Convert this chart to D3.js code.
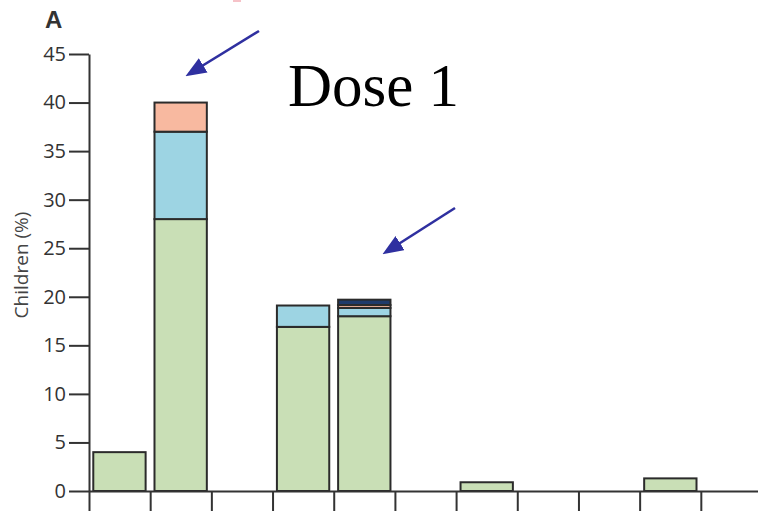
<!DOCTYPE html>
<html><head><meta charset="utf-8">
<script src="https://cdn.jsdelivr.net/npm/d3@7"></script>
<style>html,body{margin:0;padding:0;background:#fff;}svg{display:block;}</style>
</head><body>
<svg id="chart" width="758" height="511"></svg>
<script>
// ---- data ----
const categories = ["1","2","3","4","5","6","7","8","9","10","11"];
const seriesNames = ["green","blue","salmon","navy"];
const greenVals  = [4.0, 28.0, 0, 16.9, 18.0, 0, 0.9, 0, 0, 1.3, 0];
const blueVals   = [0,    9.0, 0,  2.2, 0.85, 0, 0,   0, 0, 0,   0];
const salmonVals = [0,    3.0, 0,  0,   0.3,  0, 0,   0, 0, 0,   0];
const navyVals   = [0,    0,   0,  0,   0.55, 0, 0,   0, 0, 0,   0];
const yTicks = [0,5,10,15,20,25,30,35,40,45];
const yLabel = "Children (%)";
const panelLabel = "A";
const annotation = "Dose 1";

const colors = {green:"#c9dfb6", blue:"#9dd4e3", salmon:"#f8b9a0", navy:"#1e3a6a"};
const svg = d3.select("#chart");
const x0 = 89, x1 = 762, yTop = 54, yBot = 491;

const x = d3.scaleBand().domain(categories).range([x0, x1]).paddingInner(0.145).paddingOuter(0.07);
const xb = d3.scaleLinear().domain([0, categories.length]).range([x0, x1]);
const y = d3.scaleLinear().domain([0,45]).range([yBot, yTop]);

const rows = categories.map((c,i)=>({cat:c, green:greenVals[i], blue:blueVals[i], salmon:salmonVals[i], navy:navyVals[i]}));
const stack = d3.stack().keys(seriesNames)(rows);

const g = svg.append("g");
stack.forEach(layer=>{
  g.selectAll(null).data(layer.filter(d=>d[1]-d[0]>0)).enter().append("rect")
    .attr("x", d=>x(d.data.cat))
    .attr("width", x.bandwidth())
    .attr("y", d=>y(d[1]))
    .attr("height", d=>y(d[0])-y(d[1]))
    .attr("fill", colors[layer.key])
    .attr("stroke", "#2b2b2b")
    .attr("stroke-width", 2);
});

// y axis
const yAxis = svg.append("g").attr("transform",`translate(${x0},0)`)
  .call(d3.axisLeft(y).tickValues(yTicks).tickSize(20).tickSizeOuter(0).tickPadding(3));
yAxis.selectAll("path,line").attr("stroke","#333").attr("stroke-width",2);
yAxis.selectAll("text").attr("font-family","'Open Sans', sans-serif").attr("font-size",20).attr("fill","#333");

// x axis
const xAxis = svg.append("g").attr("transform",`translate(0,${yBot})`)
  .call(d3.axisBottom(xb).tickValues(d3.range(0, categories.length)).tickSize(20).tickSizeOuter(0).tickFormat(""));
xAxis.selectAll("path,line").attr("stroke","#333").attr("stroke-width",2);

// y label
svg.append("text").attr("transform","translate(28,265) rotate(-90)")
  .attr("text-anchor","middle").attr("font-family","'Open Sans', sans-serif")
  .attr("font-size",19).attr("fill","#444").text(yLabel);

// panel label
svg.append("text").attr("x",45).attr("y",28).attr("font-family","'Liberation Sans', Arial, sans-serif")
  .attr("font-weight","bold").attr("font-size",24).attr("fill","#333").text(panelLabel);

// annotation
svg.append("text").attr("x",288).attr("y",106).attr("font-family","'Liberation Serif', 'Times New Roman', serif")
  .attr("font-size",61).attr("fill","#000").text(annotation);

// cropped pink fragment at top
svg.append("rect").attr("x",233).attr("y",0).attr("width",8).attr("height",2).attr("fill","#f6c2c8");

// arrows
const defs = svg.append("defs");
defs.append("marker").attr("id","ah").attr("viewBox","0 0 10 8").attr("refX",8).attr("refY",4)
  .attr("markerWidth",8).attr("markerHeight",6.5).attr("markerUnits","strokeWidth").attr("orient","auto")
  .append("path").attr("d","M0,0 L10,4 L0,8 z").attr("fill","#2f30a0");
[[259,31,189,74],[455,208,386,252]].forEach(a=>{
  svg.append("line").attr("x1",a[0]).attr("y1",a[1]).attr("x2",a[2]).attr("y2",a[3])
    .attr("stroke","#2f30a0").attr("stroke-width",2.6).attr("marker-end","url(#ah)");
});
</script>
</body></html>
